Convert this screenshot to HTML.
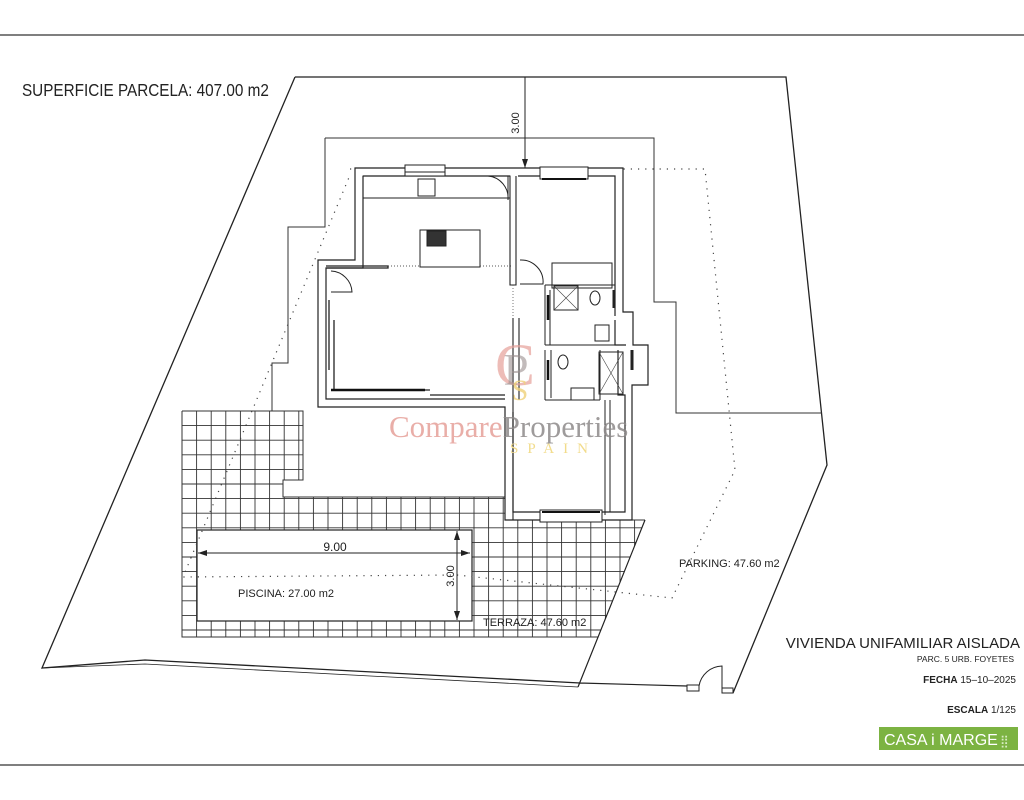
<!DOCTYPE html>
<html><head><meta charset="utf-8"><style>
html,body{margin:0;padding:0;background:#fff;}
svg{display:block}
text{font-family:"Liberation Sans",sans-serif;fill:#222}
</style></head><body>
<svg width="1024" height="800" viewBox="0 0 1024 800" xmlns="http://www.w3.org/2000/svg">
<defs>
<clipPath id="terr"><path d="M182,411 H303 V480 H283 V497 H505 V520 H645 L598,637 H182 Z"/></clipPath>
</defs>
<line x1="0" y1="35" x2="1024" y2="35" stroke="#555" stroke-width="1.5"/>
<line x1="0" y1="765" x2="1024" y2="765" stroke="#555" stroke-width="1.5"/>

<!-- terrace grid -->
<g clip-path="url(#terr)" stroke="#333" stroke-width="0.9" fill="none">
<path d="M182,405V640M196.6,405V640M211.2,405V640M225.8,405V640M240.4,405V640M255,405V640M269.6,405V640M284.2,405V640M298.8,405V640M313.4,405V640M328,405V640M342.6,405V640M357.2,405V640M371.8,405V640M386.4,405V640M401,405V640M415.6,405V640M430.2,405V640M444.8,405V640M459.4,405V640M474,405V640M488.6,405V640M503.2,405V640M517.8,405V640M532.4,405V640M547,405V640M561.6,405V640M576.2,405V640M590.8,405V640M605.4,405V640M620,405V640M634.6,405V640M649.2,405V640"/>
<path d="M180,411H650M180,425.6H650M180,440.2H650M180,454.8H650M180,469.4H650M180,484H650M180,498.6H650M180,513.2H650M180,527.8H650M180,542.4H650M180,557H650M180,571.6H650M180,586.2H650M180,600.8H650M180,615.4H650M180,630H650"/>
</g>
<path d="M182,411 H303 V480 H283 V497 H505 M645,520 H505 M182,411 V637 H598" stroke="#333" fill="none" stroke-width="1"/>
<rect x="197" y="530" width="275" height="91" fill="#fff" stroke="#222" stroke-width="1.2"/>

<!-- parcel -->
<path d="M295,77 H786 L827,465 L733,693" stroke="#222" fill="none" stroke-width="1.3"/>
<path d="M295,77 L42,668 L145,660 L580,683" stroke="#222" fill="none" stroke-width="1.3"/>
<path d="M42,668 L145,664 L578,687" stroke="#222" fill="none" stroke-width="0.8"/>
<path d="M580,683 L687,686 M645,520 L578,687" stroke="#222" fill="none" stroke-width="1.2"/>
<rect x="687" y="685" width="12" height="6" fill="none" stroke="#222"/>
<rect x="722" y="688" width="11" height="5" fill="none" stroke="#222"/>
<path d="M699,686 A24,24 0 0 1 722,666 V688" stroke="#222" fill="none"/>

<!-- setback outline -->
<path d="M325,138 H654 V302 H676 V413 H822 M325,138 V227 H288 V363 H272 V411" stroke="#333" fill="none" stroke-width="1"/>

<!-- dotted -->
<path d="M350,169 H705 L735,470 L672,598 L457,575 L183,577 L350,175" stroke="#444" fill="none" stroke-width="1.2" stroke-dasharray="1.2,6"/>

<!-- house outer walls -->
<path d="M355,168 H623 V312 H633 V345 H648 V385 H632 V520 H505 V407 H318 V260 H355 Z" fill="#fff" stroke="#222" stroke-width="1.2"/>
<path d="M363,176 H510 M518,176 H615 V316 M615,320 V345 H626 M618,350 V395 H625 V512 H513 V412 M505,399 H326 V268 H363 V176" stroke="#222" fill="none" stroke-width="1.2"/>
<path d="M326,268 H388 V266 H326 M329,300 V370 M334,320 V390 H430 M430,395 H505" stroke="#222" fill="none" stroke-width="1.3"/>
<path d="M331,390 H425" stroke="#111" stroke-width="2.5"/>
<!-- windows -->
<rect x="405" y="165" width="40" height="11" fill="#fff" stroke="#222"/>
<line x1="405" y1="172" x2="445" y2="172" stroke="#222"/>
<rect x="540" y="167" width="48" height="12" fill="#fff" stroke="#222"/>
<line x1="542" y1="179" x2="586" y2="179" stroke="#111" stroke-width="2"/>
<rect x="540" y="510" width="62" height="12" fill="#fff" stroke="#222"/>
<line x1="542" y1="512" x2="600" y2="512" stroke="#111" stroke-width="2"/>
<!-- kitchen -->
<rect x="363" y="176" width="147" height="22" fill="none" stroke="#222"/>
<rect x="418" y="179" width="17" height="17" fill="none" stroke="#222"/>
<rect x="420" y="230" width="60" height="37" fill="none" stroke="#222"/>
<rect x="427" y="231" width="19" height="15" fill="#333" stroke="#222"/>
<path d="M388,266 H420 M480,266 H513" stroke="#555" stroke-dasharray="1,2"/>
<!-- doors -->
<path d="M488,176 A22,22 0 0 1 508,200 V176" stroke="#222" fill="none"/>
<path d="M331,271 A22,22 0 0 1 352,292 H331" stroke="#222" fill="none"/>
<path d="M520,260 A22,22 0 0 1 543,284 H520" stroke="#222" fill="none"/>
<!-- interior walls -->
<path d="M510,176 V285 H516 V176 M513,318 V520 M519,318 V400" stroke="#222" fill="none" stroke-width="1.1"/>
<path d="M513,285 V318" stroke="#777" stroke-dasharray="1,2"/>
<path d="M552,263 H612 V288 H552 Z M545,285 H615 M545,285 V345 M550,290 V345 M545,345 H620 M545,350 V400 M551,350 V398 M545,400 H600 M600,350 V400 M605,400 V515 M610,400 V512" stroke="#222" fill="none" stroke-width="1"/>
<rect x="554" y="286" width="24" height="24" fill="none" stroke="#222"/>
<path d="M554,286 L578,310 M578,286 L554,310" stroke="#444" stroke-width=".6"/>
<ellipse cx="595" cy="298" rx="5" ry="7" fill="none" stroke="#222"/>
<rect x="595" y="325" width="14" height="16" fill="none" stroke="#222"/>
<ellipse cx="563" cy="362" rx="5" ry="7" fill="none" stroke="#222"/>
<rect x="599" y="352" width="24" height="42" fill="none" stroke="#222"/>
<path d="M599,352 L623,394 M623,352 L599,394" stroke="#444" stroke-width=".6"/>
<rect x="571" y="388" width="23" height="12" fill="none" stroke="#222"/>
<path d="M548,295 V320 M548,360 V380" stroke="#111" stroke-width="2.5"/>
<path d="M614,290 V308 M632,350 V370" stroke="#222" stroke-width="3"/>

<!-- dimensions -->
<path d="M525,77 V168 M198,553 H470 M457,531 V620" stroke="#222" stroke-width="1"/>
<path d="M525,168 l-3,-9 h6z M198,553 l9,-3 v6z M470,553 l-9,-3 v6z M457,531 l-3,9 h6z M457,620 l-3,-9 h6z" fill="#222"/>
<text x="519" y="123" font-size="11" transform="rotate(-90 519 123)" text-anchor="middle">3.00</text>
<text x="335" y="551" font-size="12" text-anchor="middle">9.00</text>
<text x="454" y="576" font-size="11" transform="rotate(-90 454 576)" text-anchor="middle">3.00</text>

<!-- watermark -->
<text x="515" y="385" font-size="60" text-anchor="middle" opacity=".7" style="font-family:'Liberation Serif',serif;fill:#e6a09a">C</text>
<text x="516" y="385" font-size="45" text-anchor="middle" style="font-family:'Liberation Serif',serif;fill:#9a8f8f" opacity=".6">P</text>
<text x="520" y="400" font-size="30" text-anchor="middle" style="font-family:'Liberation Serif',serif;fill:#f0d27a" opacity=".8">S</text>
<text x="389" y="437" font-size="31" style="font-family:'Liberation Serif',serif;fill:#e6a09a" opacity=".85">Compare<tspan style="fill:#8e8a8a">Properties</tspan></text>
<text x="510" y="453" font-size="15" letter-spacing="9" style="font-family:'Liberation Serif',serif;fill:#f2dc8c">SPAIN</text>

<!-- labels -->
<text x="22" y="96" font-size="18" transform="scale(0.85 1)" transform-origin="22 96">SUPERFICIE  PARCELA:  407.00  m2</text>
<text x="238" y="597" font-size="11">PISCINA:  27.00  m2</text>
<text x="483" y="626" font-size="11">TERRAZA:  47.60  m2</text>
<text x="679" y="567" font-size="11">PARKING:  47.60  m2</text>
<text x="1020" y="648" font-size="15" text-anchor="end">VIVIENDA  UNIFAMILIAR  AISLADA</text>
<text x="1014" y="662" font-size="8.5" text-anchor="end">PARC.  5  URB.  FOYETES</text>
<text x="1016" y="683" font-size="10" text-anchor="end"><tspan font-weight="bold">FECHA</tspan> 15–10–2025</text>
<text x="1016" y="713" font-size="10" text-anchor="end"><tspan font-weight="bold">ESCALA</tspan>  1/125</text>
<rect x="879" y="727" width="139" height="23" fill="#7cb342"/>
<text x="884" y="745" font-size="16" style="fill:#fff">CASA i MARGE</text>
<text x="1000" y="745" font-size="12" style="fill:#d8ecc4">⣿</text>
</svg>
</body></html>
